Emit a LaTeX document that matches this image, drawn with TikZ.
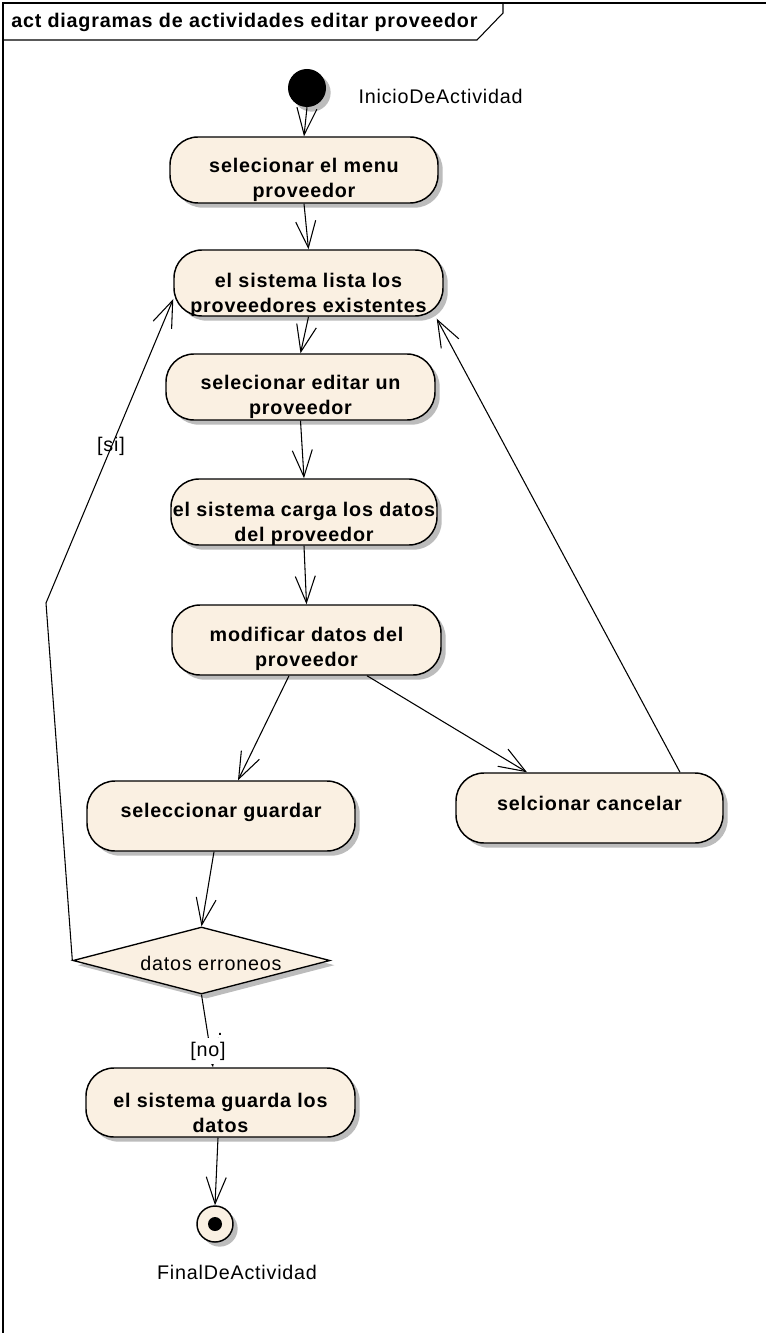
\documentclass[tikz,border=0pt]{standalone}
\usepackage{fontspec}
\setmainfont{Liberation Sans}[LetterSpace=4]
\usetikzlibrary{arrows.meta,shapes.geometric,shadows,calc}
\definecolor{eabg}{RGB}{250,240,226}
\definecolor{eashadow}{RGB}{188,188,188}
\begin{document}
\begin{tikzpicture}[x=0.75pt,y=-0.75pt,
  eashade/.style={general shadow={fill=eashadow, shadow xshift=3.5pt, shadow yshift=-3.5pt}},
  act/.style={draw, line width=1.1pt, fill=eabg, rounded corners=21pt, inner sep=0pt, eashade},
  acttxt/.style={font=\bfseries\fontsize{14.8}{18.75}\selectfont, align=center, inner sep=0pt},
  plaintxt/.style={font=\fontsize{14.8}{17}\selectfont, inner sep=1pt},
  flow/.style={draw, line width=0.8pt, -{Straight Barb[length=20pt,width=15pt,line width=0.8pt]}},
  frameline/.style={draw, line width=0.8pt}]
\useasboundingbox (0,0) rectangle (766,1333);
% frame
\draw[frameline] (3,1333) -- (3,3) -- (766,3);
\draw[frameline] (3,40) -- (477,40) -- (503,13) -- (503,3);
\node[anchor=west, font=\bfseries\fontsize{14.8}{17}\selectfont, inner sep=0pt] (title) at (11,22) {act diagramas de actividades editar proveedor};

% initial and final
\node[circle, fill=black, minimum size=38*0.75pt, inner sep=0pt, eashade] (init) at (307,88) {};
\node[plaintxt, anchor=west] (initlbl) at (357,96) {InicioDeActividad};

\node[circle, draw, line width=1.1pt, fill=eabg, minimum size=36*0.75pt, inner sep=0pt, eashade] (fin) at (215,1224) {};
\node[circle, fill=black, minimum size=14*0.75pt, inner sep=0pt] (findot) at (fin.center) {};
\node[plaintxt] (finlbl) at (237,1272) {FinalDeActividad};

% activities
\node[act, minimum width=268*0.75pt, minimum height=66*0.75pt] (a1) at (304,170) {};
\node[acttxt] (t1) at ([yshift=-7.5pt]a1.center) {selecionar el menu\\proveedor};

\node[act, minimum width=269*0.75pt, minimum height=66*0.75pt] (a2) at (308.5,283) {};
\node[acttxt] (t2) at ([yshift=-9pt]a2.center) {el sistema lista los\\proveedores existentes};

\node[act, minimum width=269*0.75pt, minimum height=66*0.75pt] (a3) at (300.5,387) {};
\node[acttxt] (t3) at ([yshift=-7.5pt]a3.center) {selecionar editar un\\proveedor};

\node[act, minimum width=266*0.75pt, minimum height=66*0.75pt] (a4) at (304,512) {};
\node[acttxt] (t4) at ([yshift=-9pt]a4.center) {el sistema carga los datos\\del proveedor};

\node[act, minimum width=269*0.75pt, minimum height=70*0.75pt] (a5) at (306.5,640) {};
\node[acttxt] (t5) at ([yshift=-6.75pt]a5.center) {modificar datos del\\proveedor};

\node[act, minimum width=268*0.75pt, minimum height=70*0.75pt] (a6) at (221,816) {};
\node[acttxt] (t6) at ([yshift=3pt]a6.center) {seleccionar guardar};

\node[act, minimum width=267*0.75pt, minimum height=70*0.75pt] (a7) at (589.5,808) {};
\node[acttxt] (t7) at ([yshift=3.75pt]a7.center) {selcionar cancelar};

\node[act, minimum width=269*0.75pt, minimum height=69*0.75pt] (a8) at (220.5,1102.5) {};
\node[acttxt] (t8) at ([yshift=-7.9pt]a8.center) {el sistema guarda los\\datos};

% decision
\node[diamond, draw, line width=1pt, fill=eabg, minimum width=257*0.75pt, minimum height=67*0.75pt, inner sep=0pt, eashade] (d) at (201.5,960.5) {};
\node[plaintxt] (dtxt) at (211,963) {datos erroneos};

% connectors
\coordinate (bend) at (46,603);
\draw[flow] (init.south) -- (a1.north);
\draw[flow] (a1.south) -- (a2.north);
\draw[flow] (a2.south) -- (a3.north);
\draw[flow] (a3.south) -- (a4.north);
\draw[flow] (a4.south) -- (a5.north);
\draw[flow] ($(a5.south)+(-17.5,0)$) -- ($(a6.north)+(17,0)$);
\draw[flow] ($(a5.south)+(60.5,0)$) -- ($(a7.north)+(-62.5,0)$);
\draw[flow] ($(a7.north)+(90.5,0)$) -- ($(a2.south east)+(-7,2)$);
\draw[flow] ($(a6.south)+(-7,0)$) -- (d.north);
\draw[flow] (d.west) -- (bend) -- ($(a2.west)+(0,16)$);
\node[plaintxt] (si) at (111,446) {[si]};
\draw[flow] (d.south) -- ($(a8.north)+(-7.5,0)$);
\node[plaintxt, fill=white, inner xsep=1pt, minimum height=26*0.75pt] (no) at (208,1051) {[no]};
\node[plaintxt, inner sep=0pt, anchor=base] (dot) at (220,1035) {.};
\draw[flow] ($(a8.south)+(-2.5,0)$) -- (fin.north);
\end{tikzpicture}
\end{document}
